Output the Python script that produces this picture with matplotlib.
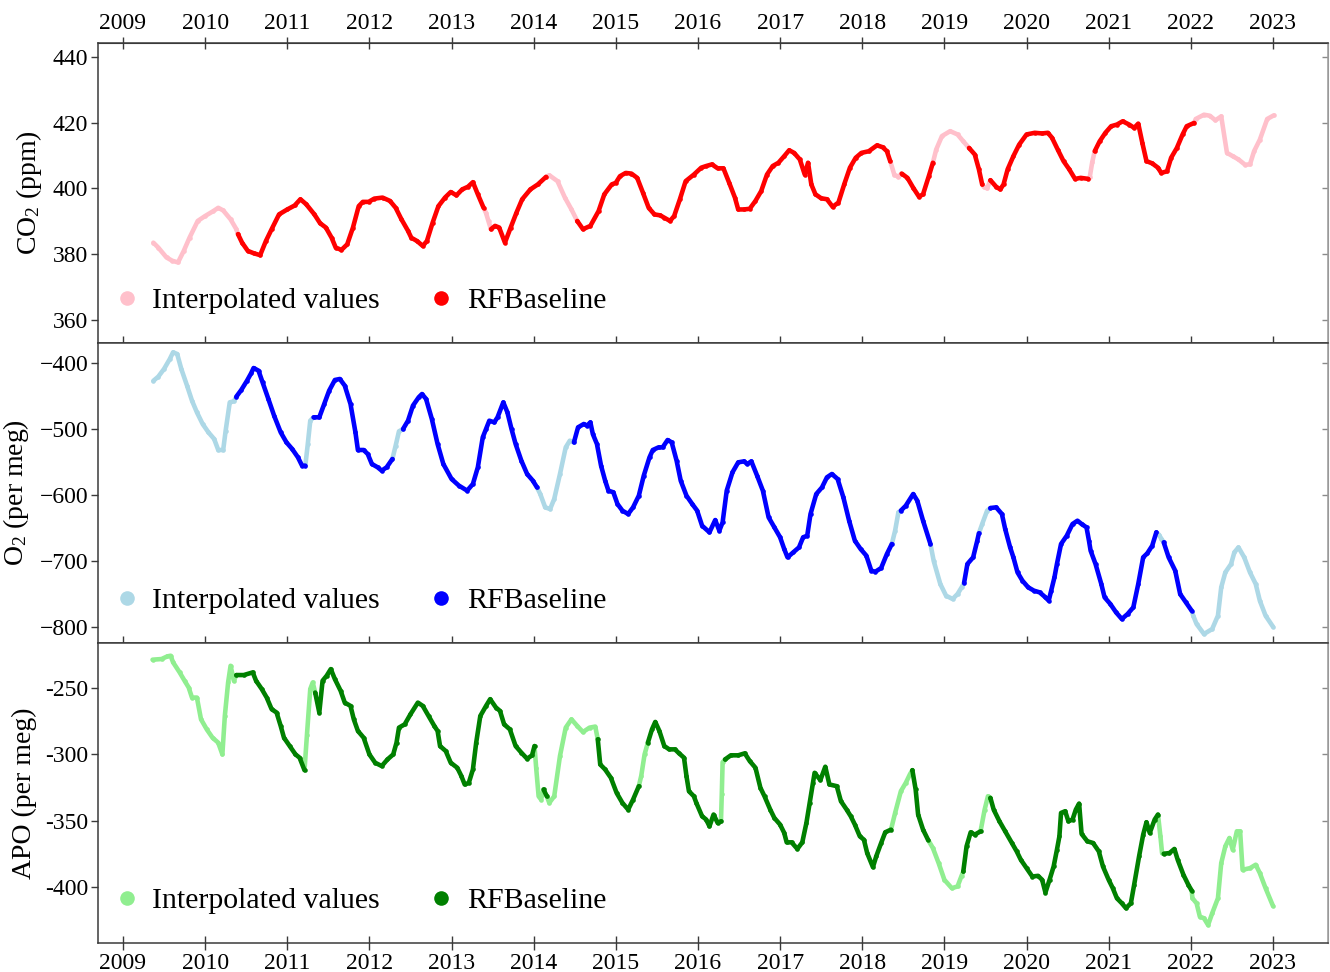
import numpy as np
import matplotlib
matplotlib.use("Agg")
import matplotlib.pyplot as plt
from matplotlib.lines import Line2D
from matplotlib.ticker import FuncFormatter

# ---------------- data (decimal year, value); None splits a segment ----------------
co2_interp_t = [2009.37, 2009.43, 2009.53, 2009.60, 2009.67, 2009.74, 2009.81, 2009.91, 2010.00, 2010.10,
                2010.16, 2010.22, 2010.31, 2010.38, None, 2013.42, 2013.45, None,
                2014.19, 2014.29, 2014.38, 2014.46, None, 2018.39, 2018.44, None,
                2018.90, 2018.97, 2019.07, 2019.16, 2019.23, None, 2019.48, 2019.52, None,
                2020.77, 2020.80, None, 2022.06, 2022.16, 2022.23, 2022.30, 2022.37, 2022.44,
                2022.51, 2022.58, 2022.66, 2022.72, 2022.77, 2022.84, 2022.93, 2023.01]
co2_interp_v = [383.5, 382.0, 379.0, 378.0, 377.5, 381.0, 385.0, 390.1, 391.6, 393.1,
                394.1, 393.3, 390.6, 387.6, None, 392.5, 390.0, None,
                404.0, 402.2, 397.2, 393.6, None, 404.2, 403.5, None,
                411.8, 415.9, 417.4, 416.4, 414.3, None, 400.5, 400.0, None,
                403.5, 408.0, None, 421.1, 422.4, 422.1, 420.7, 421.9, 410.8,
                409.8, 408.8, 407.2, 407.3, 411.3, 414.8, 421.1, 422.2]

co2_base_t = [2010.40, 2010.45, 2010.52, 2010.59, 2010.67, 2010.74, 2010.81, 2010.90, 2011.00, 2011.09,
              2011.16, 2011.23, 2011.33, 2011.40, 2011.47, 2011.54, 2011.59, 2011.66, 2011.73, 2011.80,
              2011.87, 2011.92, 2011.99, 2012.06, 2012.16, 2012.25, 2012.32, 2012.39, 2012.47, 2012.51,
              2012.58, 2012.65, 2012.70, 2012.77, 2012.84, 2012.92, 2012.99, 2013.06, 2013.13, 2013.20,
              2013.26, 2013.32, 2013.39, None,
              2013.48, 2013.53, 2013.58, 2013.65, 2013.72, 2013.79, 2013.86, 2013.96, 2014.05, 2014.15, None,
              2014.53, 2014.60, 2014.69, 2014.79, 2014.86, 2014.95, 2015.00, 2015.05, 2015.12, 2015.19,
              2015.26, 2015.33, 2015.40, 2015.47, 2015.54, 2015.59, 2015.66, 2015.71, 2015.78, 2015.85,
              2015.95, 2016.04, 2016.10, 2016.17, 2016.24, 2016.31, 2016.38, 2016.45, 2016.49, 2016.56,
              2016.63, 2016.70, 2016.77, 2016.84, 2016.91, 2016.98, 2017.05, 2017.11, 2017.17, 2017.24,
              2017.30, 2017.34, 2017.38, 2017.43, 2017.50, 2017.57, 2017.64, 2017.71, 2017.78, 2017.85,
              2017.92, 2017.99, 2018.08, 2018.18, 2018.25, 2018.30, 2018.34, None,
              2018.48, 2018.55, 2018.62, 2018.69, 2018.74, 2018.81, 2018.86, None,
              2019.30, 2019.37, 2019.42, 2019.46, None,
              2019.56, 2019.63, 2019.68, 2019.72, 2019.77, 2019.84, 2019.91, 2020.00, 2020.10, 2020.19,
              2020.26, 2020.31, 2020.38, 2020.45, 2020.52, 2020.59, 2020.66, 2020.75, None,
              2020.83, 2020.89, 2020.96, 2021.03, 2021.10, 2021.17, 2021.25, 2021.31, 2021.36, 2021.41,
              2021.46, 2021.53, 2021.60, 2021.64, 2021.71, 2021.76, 2021.83, 2021.90, 2021.95, 2022.04]
co2_base_v = [386.1, 383.5, 381.0, 380.3, 379.7, 384.0, 387.6, 392.1, 393.6, 394.8,
              396.7, 395.2, 392.1, 389.4, 388.1, 385.0, 382.0, 381.3, 383.0, 388.1,
              394.6, 395.9, 395.9, 396.9, 397.2, 396.2, 394.1, 390.6, 387.1, 385.0,
              384.0, 382.5, 384.0, 389.6, 394.6, 397.2, 398.9, 397.9, 399.7, 400.5,
              401.9, 398.2, 394.1, None,
              387.6, 388.6, 388.1, 383.5, 388.1, 392.6, 396.7, 399.7, 401.2, 403.5, None,
              390.1, 387.6, 388.6, 393.1, 398.2, 401.2, 401.7, 403.7, 404.7, 404.5,
              403.2, 398.7, 394.1, 392.1, 391.8, 391.1, 390.1, 391.6, 396.7, 402.2,
              404.2, 406.3, 406.8, 407.3, 406.1, 406.1, 401.7, 397.2, 393.6, 393.6,
              393.8, 396.2, 399.2, 404.2, 406.8, 407.8, 409.8, 411.6, 410.8, 408.8,
              404.2, 407.8, 401.2, 398.2, 397.0, 396.7, 394.4, 395.7, 401.2, 406.3,
              409.3, 410.8, 411.3, 413.1, 412.5, 411.3, 408.3, None,
              404.5, 403.2, 400.2, 397.5, 398.2, 403.7, 407.8, None,
              412.3, 410.3, 405.8, 401.2, None,
              402.5, 400.5, 399.7, 401.2, 405.8, 409.8, 413.3, 416.4, 416.9, 416.7,
              416.9, 415.4, 411.8, 408.3, 405.8, 402.9, 403.2, 402.9, None,
              411.3, 414.3, 416.9, 418.9, 419.4, 420.4, 419.4, 418.4, 419.7, 413.8,
              408.3, 407.6, 406.3, 404.7, 405.2, 409.3, 412.3, 416.4, 418.9, 419.9]

o2_interp_t = [2009.37, 2009.43, 2009.50, 2009.57, 2009.61, 2009.66, 2009.71, 2009.78, 2009.84, 2009.90,
               2009.97, 2010.04, 2010.11, 2010.16, 2010.22, 2010.25, 2010.30, 2010.35, None,
               2011.25, 2011.28, None, 2012.32, 2012.36, None,
               2014.08, 2014.14, 2014.20, 2014.25, 2014.32, 2014.39, 2014.44, None,
               2018.40, 2018.44, None, 2018.87, 2018.95, 2019.02, 2019.10, 2019.16, 2019.21, None,
               2019.46, 2019.52, None, 2021.61, 2021.64, None,
               2022.03, 2022.07, 2022.16, 2022.26, 2022.33, 2022.37, 2022.42, 2022.49, 2022.53, 2022.58,
               2022.65, 2022.72, 2022.79, 2022.84, 2022.91, 2023.00]
o2_interp_v = [-427.0, -420.7, -409.0, -394.0, -383.8, -386.4, -409.0, -434.3, -457.0, -474.7,
               -492.4, -505.0, -515.1, -531.8, -531.8, -502.5, -459.6, -458.0, None,
               -522.7, -487.4, None, -525.0, -503.5, None,
               -598.5, -618.7, -621.2, -606.0, -568.2, -527.8, -517.7, None,
               -654.0, -626.3, None, -700.0, -734.8, -752.5, -757.6, -750.0, -739.9, None,
               -643.9, -623.7, None, -660.0, -666.0, None,
               -783.0, -795.4, -810.6, -803.0, -782.8, -739.9, -717.2, -704.5, -686.9, -679.3,
               -694.4, -717.2, -734.8, -760.1, -782.8, -799.5]

o2_base_t = [2010.38, 2010.44, 2010.51, 2010.56, 2010.59, 2010.65, 2010.70, 2010.77, 2010.84, 2010.92,
             2010.99, 2011.06, 2011.13, 2011.18, 2011.22, None,
             2011.32, 2011.39, 2011.45, 2011.51, 2011.58, 2011.64, 2011.70, 2011.77, 2011.83, 2011.86,
             2011.93, 2011.98, 2012.03, 2012.10, 2012.15, 2012.21, 2012.28, None,
             2012.41, 2012.47, 2012.53, 2012.60, 2012.64, 2012.69, 2012.76, 2012.83, 2012.90, 2013.00,
             2013.09, 2013.19, 2013.26, 2013.32, 2013.38, 2013.42, 2013.46, 2013.52, 2013.56, 2013.63,
             2013.68, 2013.73, 2013.78, 2013.85, 2013.92, 2013.99, 2014.04, None,
             2014.49, 2014.54, 2014.61, 2014.65, 2014.69, 2014.72, 2014.77, 2014.82, 2014.87, 2014.91,
             2014.97, 2015.02, 2015.08, 2015.15, 2015.21, 2015.28, 2015.34, 2015.41, 2015.45, 2015.52,
             2015.57, 2015.63, 2015.68, 2015.74, 2015.79, 2015.86, 2015.93, 2015.99, 2016.05, 2016.14,
             2016.21, 2016.26, 2016.30, 2016.35, 2016.42, 2016.49, 2016.56, 2016.60, 2016.65, 2016.72,
             2016.79, 2016.86, 2016.93, 2017.00, 2017.05, 2017.09, 2017.16, 2017.23, 2017.28, 2017.33,
             2017.37, 2017.44, 2017.51, 2017.57, 2017.63, 2017.70, 2017.77, 2017.84, 2017.91, 2017.98,
             2018.05, 2018.11, 2018.16, 2018.23, 2018.30, 2018.36, None,
             2018.47, 2018.53, 2018.62, 2018.67, 2018.74, 2018.83, None,
             2019.24, 2019.28, 2019.35, 2019.40, 2019.42, None,
             2019.56, 2019.63, 2019.70, 2019.74, 2019.80, 2019.84, 2019.89, 2019.95, 2020.02, 2020.09,
             2020.16, 2020.23, 2020.27, 2020.30, 2020.34, 2020.37, 2020.42, 2020.49, 2020.56, 2020.62,
             2020.67, 2020.73, 2020.76, 2020.78, 2020.84, 2020.91, 2020.95, 2021.02, 2021.09, 2021.16,
             2021.23, 2021.30, 2021.36, 2021.42, 2021.47, 2021.53, 2021.58, None,
             2021.67, 2021.73, 2021.81, 2021.87, 2021.94, 2022.01]
o2_base_v = [-451.0, -440.9, -426.8, -415.6, -407.6, -411.6, -429.3, -454.5, -479.8, -505.0,
             -520.2, -530.3, -542.9, -555.5, -555.5, None,
             -482.3, -482.3, -462.0, -441.9, -425.7, -424.2, -434.3, -462.1, -505.0, -531.8,
             -531.8, -537.9, -553.0, -558.0, -563.1, -558.0, -545.4, None,
             -500.0, -487.4, -464.6, -452.0, -447.0, -454.5, -484.8, -522.7, -553.0, -575.7,
             -585.8, -593.4, -583.3, -558.0, -512.6, -500.0, -487.4, -489.9, -482.3, -459.6,
             -474.7, -500.0, -522.7, -548.0, -568.2, -578.3, -588.4, None,
             -520.2, -497.5, -492.4, -494.9, -489.9, -507.6, -522.7, -555.5, -578.3, -593.4,
             -595.9, -613.6, -623.7, -628.8, -618.7, -601.0, -570.7, -542.9, -531.8, -527.8,
             -527.8, -516.7, -520.2, -548.0, -578.3, -601.0, -613.6, -623.7, -646.5, -656.5,
             -637.9, -654.0, -641.4, -593.4, -565.6, -550.5, -549.0, -553.0, -549.0, -570.7,
             -593.4, -633.8, -649.0, -664.1, -681.8, -694.4, -686.9, -679.3, -664.1, -661.6,
             -628.8, -598.5, -588.4, -573.2, -568.2, -575.7, -603.5, -638.9, -669.2, -681.8,
             -691.9, -714.6, -716.2, -710.6, -689.4, -674.2, None,
             -623.7, -616.2, -598.5, -608.6, -638.9, -674.2, None,
             -733.0, -704.5, -694.4, -669.2, -658.0, None,
             -619.7, -618.7, -628.8, -651.5, -679.3, -694.4, -717.2, -729.8, -739.9, -744.9,
             -747.5, -755.0, -760.1, -744.9, -724.7, -704.5, -674.2, -661.6, -643.9, -638.9,
             -643.9, -649.0, -669.2, -684.3, -704.5, -734.8, -755.0, -765.1, -777.8, -787.9,
             -780.3, -770.2, -734.8, -694.4, -688.4, -676.8, -656.5, None,
             -671.7, -694.4, -714.6, -750.0, -762.6, -775.2]

apo_interp_t = [2009.36, 2009.47, 2009.54, 2009.58, 2009.61, 2009.69, 2009.75, 2009.80, 2009.84, 2009.90,
                2009.95, 2010.02, 2010.09, 2010.16, 2010.21, 2010.24, 2010.28, 2010.31, 2010.35, None,
                2011.24, 2011.28, 2011.31, None, 2014.03, 2014.06, 2014.09, None,
                2014.19, 2014.25, 2014.32, 2014.39, 2014.46, 2014.53, 2014.60, 2014.68, 2014.75, None,
                2015.31, 2015.35, None, 2016.29, 2016.30, None,
                2018.40, 2018.47, 2018.53, 2018.58, None,
                2018.86, 2018.93, 2019.00, 2019.09, 2019.16, 2019.21, None,
                2019.49, 2019.53, None, 2021.63, 2021.65, None,
                2022.02, 2022.07, 2022.11, 2022.16, 2022.21, 2022.26, 2022.33, 2022.37, 2022.42, 2022.47,
                2022.51, 2022.56, 2022.60, 2022.63, 2022.72, 2022.79, 2022.84, 2022.91, 2023.00]
apo_interp_v = [-228.5, -228.0, -226.0, -225.5, -230.5, -238.1, -244.4, -249.5, -257.1, -257.1,
                -273.5, -281.1, -287.4, -291.2, -300.0, -271.0, -245.7, -233.1, -244.4, None,
                -285.0, -250.7, -245.7, None, -310.0, -331.6, -334.1, None,
                -336.6, -331.6, -301.2, -279.8, -273.5, -278.5, -283.1, -279.8, -279.0, None,
                -316.0, -300.0, None, -330.0, -306.0, None,
                -344.2, -327.8, -321.5, -315.1, None,
                -370.7, -382.1, -394.7, -401.0, -399.7, -391.5, None,
                -341.7, -331.6, None, -361.9, -374.5, None,
                -408.6, -412.4, -422.5, -423.7, -428.8, -420.0, -408.6, -382.1, -369.4, -363.1,
                -372.0, -358.1, -358.1, -387.1, -385.9, -383.3, -389.6, -401.0, -414.4]

apo_base_t = [2010.38, 2010.47, 2010.58, 2010.62, 2010.69, 2010.75, 2010.81, 2010.87, 2010.92, 2010.96,
              2011.03, 2011.10, 2011.15, 2011.21, None,
              2011.34, 2011.39, 2011.43, 2011.48, 2011.53, 2011.58, 2011.65, 2011.70, 2011.77, 2011.81,
              2011.86, 2011.93, 2012.00, 2012.07, 2012.15, 2012.22, 2012.29, 2012.33, 2012.36, 2012.43,
              2012.50, 2012.59, 2012.65, 2012.72, 2012.79, 2012.83, 2012.86, 2012.93, 2012.99, 2013.07,
              2013.12, 2013.16, 2013.21, 2013.26, 2013.30, 2013.35, 2013.42, 2013.47, 2013.54, 2013.59,
              2013.64, 2013.71, 2013.78, 2013.85, 2013.92, 2013.98, 2014.01, None,
              2014.12, 2014.16, None,
              2014.78, 2014.81, 2014.87, 2014.94, 2015.01, 2015.08, 2015.15, 2015.21, 2015.28, None,
              2015.39, 2015.44, 2015.48, 2015.53, 2015.59, 2015.65, 2015.72, 2015.77, 2015.83, 2015.86,
              2015.89, 2015.95, 2015.98, 2016.05, 2016.10, 2016.14, 2016.19, 2016.24, 2016.28, None,
              2016.33, 2016.40, 2016.49, 2016.57, 2016.63, 2016.70, 2016.76, 2016.81, 2016.88, 2016.93,
              2017.00, 2017.05, 2017.08, 2017.14, 2017.21, 2017.27, 2017.32, 2017.36, 2017.40, 2017.42,
              2017.49, 2017.55, 2017.60, 2017.69, 2017.74, 2017.81, 2017.86, 2017.91, 2017.97, 2018.02,
              2018.06, 2018.13, 2018.17, 2018.23, 2018.28, 2018.35, None,
              2018.61, 2018.65, 2018.68, 2018.74, 2018.80, None,
              2019.23, 2019.27, 2019.32, 2019.37, 2019.44, None,
              2019.56, 2019.60, 2019.67, 2019.74, 2019.82, 2019.88, 2019.93, 2020.00, 2020.07, 2020.14,
              2020.19, 2020.23, 2020.28, 2020.33, 2020.37, 2020.40, 2020.42, 2020.47, 2020.51, 2020.56,
              2020.60, 2020.64, 2020.67, 2020.74, 2020.81, 2020.88, 2020.93, 2021.00, 2021.05, 2021.10,
              2021.16, 2021.21, 2021.27, 2021.31, 2021.37, 2021.42, 2021.46, 2021.50, 2021.56, 2021.60, None,
              2021.67, 2021.74, 2021.80, 2021.84, 2021.91, 2021.97, 2022.01]
apo_base_v = [-240.1, -240.1, -238.1, -244.4, -250.7, -257.1, -265.9, -268.4, -278.5, -287.4,
              -293.7, -300.0, -302.5, -311.9, None,
              -253.3, -268.4, -244.4, -240.6, -235.6, -243.2, -252.0, -260.9, -263.4, -273.5,
              -282.3, -287.4, -300.0, -306.3, -308.8, -303.8, -300.0, -291.2, -279.8, -277.3,
              -269.7, -260.9, -263.4, -271.0, -278.5, -282.3, -293.7, -297.5, -306.3, -310.1,
              -316.4, -322.7, -321.5, -311.4, -291.2, -271.0, -263.4, -258.3, -264.6, -267.2,
              -277.3, -281.1, -293.7, -298.7, -303.3, -300.7, -293.7, None,
              -326.5, -331.6, None,
              -288.6, -307.6, -311.4, -317.7, -329.1, -336.6, -341.7, -334.1, -324.0, None,
              -291.2, -281.1, -275.5, -282.3, -293.7, -296.2, -296.2, -299.2, -302.5, -316.4,
              -327.8, -331.6, -336.6, -346.7, -349.2, -354.3, -345.4, -351.8, -350.5, None,
              -303.8, -300.7, -300.7, -299.2, -305.0, -310.1, -325.2, -331.6, -341.7, -348.0,
              -353.0, -359.3, -366.4, -366.4, -371.4, -366.4, -351.8, -336.6, -321.5, -313.9,
              -319.4, -309.3, -322.7, -324.0, -335.3, -341.7, -346.7, -353.0, -361.8, -364.4,
              -374.5, -385.1, -377.0, -366.9, -358.8, -356.8, None,
              -311.9, -326.5, -345.4, -356.8, -364.4, None,
              -388.4, -369.4, -358.8, -360.6, -358.1, None,
              -332.8, -341.7, -350.5, -358.1, -366.9, -373.2, -379.5, -385.9, -392.2, -391.7,
              -394.7, -404.3, -394.7, -384.6, -372.0, -361.9, -344.2, -342.9, -350.5, -349.2,
              -341.7, -337.1, -360.0, -365.6, -366.9, -373.2, -384.6, -394.7, -401.0, -408.6,
              -412.4, -416.1, -412.4, -398.5, -377.0, -360.6, -351.2, -359.3, -349.2, -345.4, None,
              -375.0, -374.5, -371.4, -379.5, -390.9, -398.5, -402.8]

year_ticks = list(range(2009, 2024))
legend_labels = ["Interpolated values", "RFBaseline"]
y_labels = ["CO$_2$ (ppm)", "O$_2$ (per meg)", "APO (per meg)"]
y_ticks = [[360, 380, 400, 420, 440], [-800, -700, -600, -500, -400], [-400, -350, -300, -250]]
y_lims = [(353.0, 444.2), (-824.2, -369.7), (-442.4, -215.9)]

# ---------------- style ----------------
plt.rcParams["font.family"] = ["Liberation Serif", "DejaVu Serif"]
plt.rcParams["mathtext.fontset"] = "custom"
plt.rcParams["mathtext.rm"] = "Liberation Serif"
plt.rcParams["mathtext.it"] = "Liberation Serif:italic"
plt.rcParams["axes.unicode_minus"] = True

W, H = 1330, 972
fig = plt.figure(figsize=(W / 100, H / 100), dpi=100)
L, R, T, B = 98 / W, 1328 / W, 1 - 43 / H, 1 - 943 / H
h = (T - B) / 3
axes = [fig.add_axes([L, B + (2 - i) * h, R - L, h]) for i in range(3)]

series = [
    (co2_interp_t, co2_interp_v, co2_base_t, co2_base_v, "pink", "red"),
    (o2_interp_t, o2_interp_v, o2_base_t, o2_base_v, "lightblue", "blue"),
    (apo_interp_t, apo_interp_v, apo_base_t, apo_base_v, "lightgreen", "green"),
]


def arr(x):
    return np.array([np.nan if v is None else v for v in x], dtype=float)


def bridged(it, iv, bt, bv, reach=0.12):
    """Join every interpolated run to the neighbouring baseline samples."""
    it, iv, bt, bv = arr(it), arr(iv), arr(bt), arr(bv)
    ok = ~np.isnan(bt)
    bts, bvs = bt[ok], bv[ok]
    out_t, out_v = [], []
    idx = np.where(~np.isnan(it))[0]
    runs = np.split(idx, np.where(np.diff(idx) != 1)[0] + 1)
    for r in runs:
        st, sv = list(it[r]), list(iv[r])
        before = np.where((bts < st[0]) & (bts > st[0] - reach))[0]
        after = np.where((bts > st[-1]) & (bts < st[-1] + reach))[0]
        if len(before):
            j = before[np.argmax(bts[before])]
            st.insert(0, bts[j]); sv.insert(0, bvs[j])
        if len(after):
            j = after[np.argmin(bts[after])]
            st.append(bts[j]); sv.append(bvs[j])
        out_t += st + [np.nan]
        out_v += sv + [np.nan]
    return np.array(out_t), np.array(out_v)


spine_col = "#3a3a3a"
tick_fs = 17
lw = 3.3

for i, (ax, (it, iv, bt, bv, cl, cd)) in enumerate(zip(axes, series)):
    lt, lv = bridged(it, iv, bt, bv)
    ax.plot(lt, lv, color=cl, lw=lw, solid_capstyle="round", solid_joinstyle="round", zorder=2)
    ax.plot(arr(it), arr(iv), ls="none", color=cl, marker="o", ms=lw, mew=0, zorder=2)
    ax.plot(arr(bt), arr(bv), color=cd, lw=lw, marker="o", ms=lw, mew=0,
            solid_capstyle="round", solid_joinstyle="round", zorder=3)
    ax.set_xlim(2008.696, 2023.67)
    ax.set_ylim(*y_lims[i])
    ax.set_xticks(year_ticks)
    ax.set_yticks(y_ticks[i])
    if i == 2:
        ax.yaxis.set_major_formatter(FuncFormatter(lambda v, p: "%d" % v))
    ax.set_ylabel(y_labels[i], fontsize=20, labelpad=6)
    for s in ax.spines.values():
        s.set_color(spine_col)
        s.set_linewidth(1.1)
    ax.spines["right"].set_color("#9a9a9a")
    ax.tick_params(axis="y", which="major", direction="out", length=5, width=1,
                   color=spine_col, labelsize=tick_fs, pad=2, right=False)
    if i == 2:
        ax.tick_params(axis="x", which="major", direction="inout", length=10, width=1,
                       color=spine_col, labelsize=tick_fs, pad=2, top=False, bottom=True,
                       labelbottom=True)
    else:
        ax.tick_params(axis="x", which="major", direction="in", length=5, width=1,
                       color=spine_col, top=False, bottom=True, labelbottom=False)
    sec = ax.secondary_yaxis("right")
    sec.set_yticks(y_ticks[i])
    sec.tick_params(direction="in", length=4, width=1, color="#8a8a8a", labelright=False)
    sec.spines["right"].set_color("#9a9a9a")
    if i == 0:
        top = ax.secondary_xaxis("top")
        top.set_xticks(year_ticks)
        top.tick_params(direction="inout", length=9, width=1, color=spine_col,
                        labelsize=tick_fs, pad=2)
        top.spines["top"].set_color(spine_col)
    handles = [Line2D([], [], ls="none", marker="o", ms=10.5, mew=0, color=cl),
               Line2D([], [], ls="none", marker="o", ms=10.5, mew=0, color=cd)]
    ax.legend(handles, legend_labels, loc="center left", bbox_to_anchor=(0.0138, 0.14),
              ncol=2, frameon=False, fontsize=21.5, handlelength=0.8, handletextpad=0.45,
              columnspacing=1.65, borderpad=0, borderaxespad=0)

fig.savefig("out.png", dpi=100)
